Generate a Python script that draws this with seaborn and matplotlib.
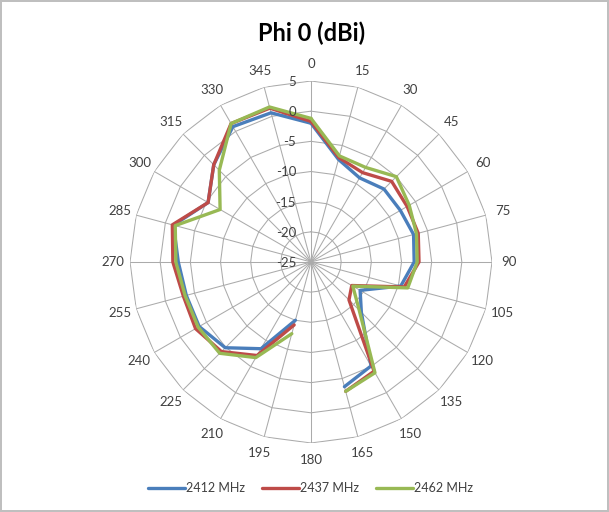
import numpy as np
import pandas as pd
import matplotlib
matplotlib.use("Agg")
import matplotlib.pyplot as plt
import matplotlib.transforms as mtransforms
import seaborn as sns

angles = [0, 15, 30, 45, 60, 75, 90, 105, 120, 135, 150, 165,
          180, 195, 210, 225, 240, 255, 270, 285, 300, 315, 330, 345]
s2412 = [-2.0, -7.4, -8.9, -7.9, -7.9, -7.4, -7.9, -9.6, -15.6, -13.2, -5.1, -3.6,
         np.nan, -15.0, -8.4, -4.9, -3.6, -3.6, -3.0, -1.4, -5.3, -2.2, 0.9, 0.6]
s2437 = [-1.7, -7.1, -7.9, -6.1, -6.6, -6.6, -7.1, -9.0, -17.2, -16.1, -4.1, -2.8,
         np.nan, -14.2, -7.1, -4.0, -2.9, -3.1, -2.1, -1.2, -5.3, -2.2, 1.5, 1.4]
s2462 = [-1.2, -6.8, -6.9, -5.0, -6.2, -6.9, -7.4, -8.4, -17.0, -13.7, -3.8, -2.8,
         np.nan, -12.7, -6.7, -3.6, -3.4, -3.4, -2.6, -1.7, -7.6, -3.5, 1.5, 1.6]
series_names = ["2412 MHz", "2437 MHz", "2462 MHz"]
colors = ["#4A7EBB", "#BE4B48", "#98B954"]
r_ticks = [5, 0, -5, -10, -15, -20, -25]
title = "Phi 0 (dBi)"

sns.set_theme(style="white")
plt.rcParams["font.family"] = ["Lato", "DejaVu Sans"]

# Build long table, splitting into contiguous segments at missing values
rows = []
for name, vals in zip(series_names, [s2412, s2437, s2462]):
    th = list(angles) + [360]
    vv = list(vals) + [vals[0]]
    seg = 0
    for a, v in zip(th, vv):
        if v is None or (isinstance(v, float) and np.isnan(v)):
            seg += 1
            continue
        rows.append({"theta": np.deg2rad(a), "r": v, "series": name,
                     "seg": f"{name}-{seg}"})
df = pd.DataFrame(rows)

fig = plt.figure(figsize=(6.09, 5.12), dpi=100)
fig.patch.set_facecolor("white")
fig.patch.set_edgecolor("#BFBFBF")
fig.patch.set_linewidth(1.5)

ax = fig.add_axes([0.2135, 0.1348, 0.5944, 0.707], projection="polar")
ax.set_theta_zero_location("N")
ax.set_theta_direction(-1)
ax.set_ylim(-25, 5)
ax.grid(False)
ax.spines["polar"].set_visible(False)
ax.set_xticks([])
ax.set_yticks([])
ax.set_facecolor("none")

# polygonal grid
gcol = "#ABABAB"
th_closed = np.deg2rad(list(angles) + [360])
for rt in r_ticks[:-1]:
    ax.plot(th_closed, [rt] * len(th_closed), color=gcol, lw=0.75, zorder=1)
for a in angles:
    ax.plot([np.deg2rad(a)] * 2, [-25, 5], color=gcol, lw=0.75, zorder=1)

sns.lineplot(data=df, x="theta", y="r", hue="series", units="seg",
             estimator=None, sort=False, palette=colors, hue_order=series_names,
             linewidth=2.4, ax=ax, legend=True, zorder=3)
ax.set_xlabel("")
ax.set_ylabel("")

# angle labels
for a in angles:
    ax.text(np.deg2rad(a), 7.85, str(a), ha="center", va="center",
            fontsize=9.5, color="#404040", clip_on=False)
# radial labels
off = mtransforms.offset_copy(ax.transData, fig=fig, x=-15, y=-1, units="dots")
for rt in r_ticks:
    ax.text(0, rt, str(rt), ha="right", va="center", fontsize=9.5,
            color="#404040", transform=off, clip_on=False)

fig.text(0.511, 0.935, title, ha="center", va="center", fontsize=17,
         fontweight="bold", color="black")

leg = ax.legend(loc="center", bbox_to_anchor=(0.51, 0.047),
                bbox_transform=fig.transFigure, ncol=3, frameon=False,
                fontsize=9, handlelength=3.0, columnspacing=1.3,
                handletextpad=0.1)
for t in leg.get_texts():
    t.set_color("#404040")

fig.savefig("out.png", dpi=100, facecolor="white", edgecolor="#BFBFBF")
